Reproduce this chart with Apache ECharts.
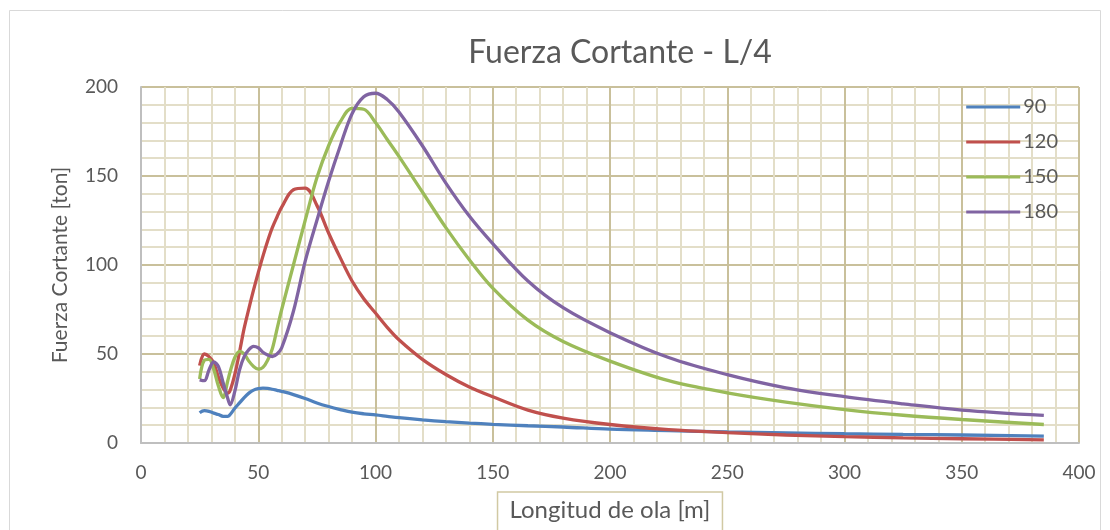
<!DOCTYPE html>
<html><head><meta charset="utf-8">
<script src="https://cdn.jsdelivr.net/npm/echarts@6/dist/echarts.min.js"></script>
<style>html,body{margin:0;padding:0;background:#fff;}#c{width:1110px;height:530px;}</style>
</head><body><div id="c"></div>
<script>
const xValues = [25,27,29,31,33,35,37,38,40,42,44,46,48,50,52,54,56,58,60,65,70,75,80,85,90,95,100,105,110,120,130,140,150,165,180,200,225,250,275,300,325,350,385];
const s90  = [17,18.2,17.8,16.8,16,15,15,16,19.5,22.5,25.5,28,29.7,30.5,30.8,30.7,30.2,29.6,29,27.2,25,22.5,20.5,18.8,17.3,16.4,15.8,15,14.2,13,12,11.2,10.5,9.7,9,7.8,7,6.2,5.7,5.2,4.8,4.5,3.9];
const s120 = [43.5,50,48.5,45,37,31,28,29.5,38.5,51,64.5,75.5,86,95.7,105,113.5,121,127,132.5,142.3,143.2,133.5,118,104,91,81,73,65,58,47,38.5,31.5,26,18.5,14,10.4,7.5,5.8,4.5,3.6,2.9,2.4,1.7];
const s150 = [36,46.5,47,41.5,32,25.5,35,40,48,51.5,50,46,43,41.5,42.5,46.5,53,64,75,100,125,149,167,180.5,188,187.5,180,170.5,161,141,121,103,87,69,57,46,35,28.2,23,18.8,15.6,13.2,10.4];
const s180 = [35.5,35,41,45.5,43,34,25,21.5,29,41,48.5,52.5,54.3,53.5,51,49.5,48.6,50,53.5,74,102,125,147,167,185,194.5,196.5,193,186,167,146,127.5,112,91,76,62,48,38.4,31,26,22,18.5,15.5];
const seriesNames = ['90','120','150','180'];
const seriesValues = [s90, s120, s150, s180];
const colors = ['#4f81bd','#c0504d','#9bbb59','#8064a2'];
const xTicks = [0,50,100,150,200,250,300,350,400];
const yTicks = [0,50,100,150,200];

const FONT = 'Lato, "Liberation Sans", sans-serif';
const chart = echarts.init(document.getElementById('c'));
chart.setOption({
  animation: false,
  backgroundColor: '#fff',
  textStyle: {fontFamily: FONT},
  title: {
    text: 'Fuerza Cortante - L/4',
    left: 615, top: 32, textAlign: 'center',
    textStyle: {fontFamily: FONT, fontSize: 32, fontWeight: 'normal', color: '#595959'}
  },
  graphic: [{
    type: 'rect', shape: {x: 9.5, y: 10.5, width: 1091, height: 530},
    style: {fill: 'none', stroke: '#d9d9d9', lineWidth: 1}, silent: true, z: -1
  }],
  legend: {
    orient: 'vertical', right: 47, top: 92,
    icon: 'rect', itemWidth: 54, itemHeight: 3, itemGap: 15,
    textStyle: {fontFamily: FONT, fontSize: 20, color: '#595959', lineHeight: 20, padding: [0,0,0,-2]},
    data: seriesNames
  },
  grid: {left: 141, right: 31, top: 87, bottom: 87, outerBoundsMode: 'none', containLabel: false},
  xAxis: {
    type: 'value', min: xTicks[0], max: xTicks[xTicks.length-1], interval: 50,
    name: 'Longitud de ola [m]', nameLocation: 'middle', nameGap: 49,
    nameTextStyle: {fontFamily: FONT, fontSize: 24, color: '#595959',
      borderColor: '#d1c9a3', borderWidth: 1.5, padding: [6, 12, 14, 12], verticalAlign: 'top'},
    axisLine: {show: true, lineStyle: {color: '#bfbfbf', width: 2}},
    axisTick: {show: false},
    axisLabel: {fontFamily: FONT, fontSize: 19, color: '#595959', margin: 20},
    splitLine: {show: true, lineStyle: {color: '#c9c09b', width: 2}},
    minorTick: {show: false, splitNumber: 5},
    minorSplitLine: {show: true, lineStyle: {color: '#e3dec8', width: 2}}
  },
  yAxis: {
    type: 'value', min: yTicks[0], max: yTicks[yTicks.length-1], interval: 50,
    name: 'Fuerza Cortante [ton]', nameLocation: 'middle', nameGap: 70, nameRotate: 90,
    nameTextStyle: {fontFamily: FONT, fontSize: 21, color: '#595959'},
    axisLine: {show: true, lineStyle: {color: '#bfbfbf', width: 2}},
    axisTick: {show: false},
    axisLabel: {fontFamily: FONT, fontSize: 19, color: '#595959', margin: 23},
    splitLine: {show: true, lineStyle: {color: '#c9c09b', width: 2}},
    minorTick: {show: false, splitNumber: 5},
    minorSplitLine: {show: true, lineStyle: {color: '#e3dec8', width: 2}}
  },
  series: seriesNames.map((n, i) => ({
    name: n, type: 'line', smooth: 0.35, showSymbol: false, symbol: 'none',
    lineStyle: {color: colors[i], width: 3.3},
    itemStyle: {color: colors[i]},
    data: xValues.map((x, k) => [x, seriesValues[i][k]])
  }))
});
</script></body></html>
